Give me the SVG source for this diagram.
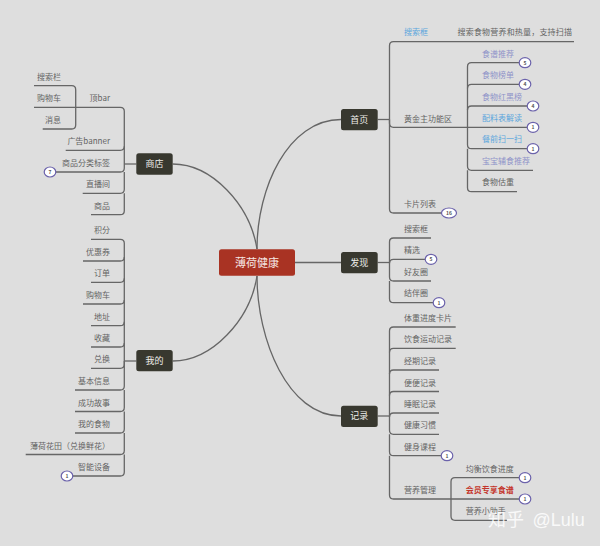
<svg xmlns="http://www.w3.org/2000/svg" width="600" height="546" viewBox="0 0 600 546">
<style>
text{font-family:"Noto Sans CJK SC","Noto Sans",sans-serif;font-size:8px;fill:#646464}
.e{text-anchor:end}
.blue{fill:#5ba6dd}
.pur{fill:#8f93c9}
.red{fill:#c4352b;font-weight:700}
.top rect{fill:#38382f}
.top text{font-size:9px;fill:#eeeeea;text-anchor:middle}
.c path{fill:none;stroke:#666;stroke-width:1.3}
.b ellipse{fill:#fff;stroke:#6b62ab;stroke-width:1.2}
.b text{font-size:5px;fill:#555;text-anchor:middle;font-weight:700}
.b text.l{font-size:8px;fill:#646464;font-weight:400;text-anchor:start}
.b text.lb{font-size:8px;fill:#5ba6dd;font-weight:400;text-anchor:start}
.b text.lp{font-size:8px;fill:#8f93c9;font-weight:400;text-anchor:start}
.b text.lr{font-size:8px;fill:#c4352b;font-weight:700;text-anchor:start}
.b text.le{font-size:8px;fill:#646464;font-weight:400;text-anchor:end}
</style>
<rect width="600" height="546" fill="#dedede"/>
<g id="connectors" class="c">
<path d="M257 249C257 188 288 119.500 341 119.500"/>
<path d="M295 262.500H341"/>
<path d="M257 276C257 340 288 416 341 416"/>
<path d="M257 249C250 205 212 164 172.700 164"/>
<path d="M257 276C250 320 212 361 172.700 361"/>
<path d="M377.700 119.500H389.500"/>
<path d="M377.700 262.500H389.500"/>
<path d="M377.700 416H389.500"/>
<path d="M136.300 164H124.300"/>
<path d="M136.300 361H124.300"/>
<path d="M389.500 119.500V45.700Q389.500 41.700 393.500 41.700H574"/>
<path d="M389.500 119.500V123.300Q389.500 127.300 393.500 127.300H533"/>
<path d="M389.500 119.500V209Q389.500 213 393.500 213H449"/>
<path d="M467.500 127.300V66.700Q467.500 62.700 471.500 62.700H525"/>
<path d="M467.500 88.300Q467.500 84.300 471.500 84.300H525"/>
<path d="M467.500 110Q467.500 106 471.500 106H533"/>
<path d="M467.500 127.300V144.700Q467.500 148.700 471.500 148.700H533"/>
<path d="M467.500 148.700V166.300Q467.500 170.300 471.500 170.300H533"/>
<path d="M467.500 170.300V187.700Q467.500 191.700 471.500 191.700H517"/>
<path d="M389.500 262.500V242Q389.500 238 393.500 238H431"/>
<path d="M389.500 263.300Q389.500 259.300 393.500 259.300H431"/>
<path d="M389.500 262.500V277Q389.500 281 393.500 281H431"/>
<path d="M389.500 281V298.700Q389.500 302.700 393.500 302.700H439"/>
<path d="M389.500 416V331Q389.500 327 393.500 327H455.700"/>
<path d="M389.500 352.300Q389.500 348.300 393.500 348.300H455.700"/>
<path d="M389.500 374Q389.500 370 393.500 370H439"/>
<path d="M389.500 395.500Q389.500 391.500 393.500 391.500H439"/>
<path d="M389.500 417Q389.500 413 393.500 413H439"/>
<path d="M389.500 416V430.300Q389.500 434.300 393.500 434.300H439"/>
<path d="M389.500 434.300V451.700Q389.500 455.700 393.500 455.700H447"/>
<path d="M389.500 455.700V495Q389.500 499 393.500 499H525"/>
<path d="M451 499V481.700Q451 477.700 455 477.700H525"/>
<path d="M451 499V516.300Q451 520.300 455 520.300H507"/>
<path d="M124.300 164V111.300Q124.300 107.300 120.300 107.300H34"/>
<path d="M124.300 146.300Q124.300 150.300 120.300 150.300H65.700"/>
<path d="M124.300 164V168Q124.300 172 120.300 172H50"/>
<path d="M124.300 172V189.300Q124.300 193.300 120.300 193.300H82.700"/>
<path d="M124.300 193.300V210.700Q124.300 214.700 120.300 214.700H91"/>
<path d="M75.700 107.300V89.700Q75.700 85.700 71.700 85.700H34"/>
<path d="M75.700 107.300V125Q75.700 129 71.700 129H42.700"/>
<path d="M124.300 361V243.300Q124.300 239.300 120.300 239.300H91"/>
<path d="M124.300 257Q124.300 261 120.300 261H83"/>
<path d="M124.300 278.300Q124.300 282.300 120.300 282.300H91"/>
<path d="M124.300 300Q124.300 304 120.300 304H83"/>
<path d="M124.300 321.700Q124.300 325.700 120.300 325.700H91"/>
<path d="M124.300 343Q124.300 347 120.300 347H91"/>
<path d="M124.300 361V364.300Q124.300 368.300 120.300 368.300H91"/>
<path d="M124.300 361V386Q124.300 390 120.300 390H75"/>
<path d="M124.300 390V407.500Q124.300 411.500 120.300 411.500H75"/>
<path d="M124.300 411.500V429Q124.300 433 120.300 433H75"/>
<path d="M124.300 433V450.500Q124.300 454.500 120.300 454.500H25.700"/>
<path d="M124.300 454.500V472Q124.300 476 120.300 476H67"/>
</g>
<g id="root"><rect x="219" y="249.300" width="76" height="26.400" rx="2.500" fill="#a93323"/><text x="257" y="266.500" text-anchor="middle" style="font-size:11px;fill:#f5e6e2">薄荷健康</text></g>
<g id="home" class="top"><rect x="341" y="109" width="36.700" height="21.300" rx="2.500"/><text x="359.300" y="122.700">首页</text></g>
<g id="discover" class="top"><rect x="341" y="252" width="36.700" height="21.300" rx="2.500"/><text x="359.300" y="265.700">发现</text></g>
<g id="record" class="top"><rect x="341" y="405.700" width="36.700" height="21.300" rx="2.500"/><text x="359.300" y="419.400">记录</text></g>
<g id="shop" class="top"><rect x="136.300" y="153.300" width="36.400" height="21.400" rx="2.500"/><text x="154.500" y="167">商店</text></g>
<g id="mine" class="top"><rect x="136.300" y="350" width="36.400" height="21.300" rx="2.500"/><text x="154.500" y="363.700">我的</text></g>
<g id="home-leaves">
<g id="h1"><text x="404" y="35.300" class="blue">搜索框</text><text x="457.500" y="35.300" textLength="114.500">搜索食物营养和热量，支持扫描</text></g>
<g id="h2"><text x="404" y="121.500">黄金主功能区</text></g>
<g id="h2a" class="b"><text x="482" y="56.500" class="lp">食谱推荐</text><ellipse cx="525" cy="62.700" rx="5.800" ry="5"/><text x="525" y="64.500">5</text></g>
<g id="h2b" class="b"><text x="482" y="78" class="lp">食物榜单</text><ellipse cx="525" cy="84.300" rx="5.800" ry="5"/><text x="525" y="86.100">4</text></g>
<g id="h2c" class="b"><text x="482" y="99.700" class="lp">食物红黑榜</text><ellipse cx="533" cy="106" rx="5.800" ry="5"/><text x="533" y="107.800">4</text></g>
<g id="h2d" class="b"><text x="482" y="121" class="lb">配料表解读</text><ellipse cx="533" cy="127.300" rx="5.800" ry="5"/><text x="533" y="129.100">1</text></g>
<g id="h2e" class="b"><text x="482" y="142.400" class="lb">餐前扫一扫</text><ellipse cx="533" cy="148.700" rx="5.800" ry="5"/><text x="533" y="150.500">1</text></g>
<g id="h2f"><text x="482" y="164" class="pur">宝宝辅食推荐</text></g>
<g id="h2g"><text x="482" y="185.400">食物估重</text></g>
<g id="h3" class="b"><text x="404" y="207" class="l">卡片列表</text><ellipse cx="449" cy="213" rx="7.500" ry="5"/><text x="449" y="214.800">16</text></g>
</g>
<g id="discover-leaves">
<g id="d1"><text x="404" y="231.700">搜索框</text></g>
<g id="d2" class="b"><text x="404" y="253" class="l">精选</text><ellipse cx="431" cy="259.300" rx="5.800" ry="5"/><text x="431" y="261.100">5</text></g>
<g id="d3"><text x="404" y="274.700">好友圈</text></g>
<g id="d4" class="b"><text x="404" y="296.400" class="l">结伴圈</text><ellipse cx="439" cy="302.700" rx="5.800" ry="5"/><text x="439" y="304.500">1</text></g>
</g>
<g id="record-leaves">
<g id="r1"><text x="404" y="321">体重进度卡片</text></g>
<g id="r2"><text x="404" y="342.300">饮食运动记录</text></g>
<g id="r3"><text x="404" y="364">经期记录</text></g>
<g id="r4"><text x="404" y="385.500">便便记录</text></g>
<g id="r5"><text x="404" y="407">睡眠记录</text></g>
<g id="r6"><text x="404" y="428.300">健康习惯</text></g>
<g id="r7" class="b"><text x="404" y="449.700" class="l">健身课程</text><ellipse cx="447" cy="455.700" rx="5.800" ry="5"/><text x="447" y="457.500">1</text></g>
<g id="r8"><text x="404" y="493">营养管理</text></g>
<g id="r8a" class="b"><text x="465.700" y="471.500" class="l">均衡饮食进度</text><ellipse cx="525" cy="477.700" rx="5.800" ry="5"/><text x="525" y="479.500">1</text></g>
<g id="r8b" class="b"><text x="465.700" y="493" class="lr">会员专享食谱</text><ellipse cx="525" cy="499" rx="5.800" ry="5"/><text x="525" y="500.800">1</text></g>
<g id="r8c"><text x="465.700" y="514.300">营养小助手</text></g>
</g>
<g id="shop-leaves">
<g id="s1"><text x="110" y="101.300" class="e">顶bar</text></g>
<g id="s1a"><text x="61" y="80" class="e">搜索栏</text></g>
<g id="s1b"><text x="61" y="101.300" class="e">购物车</text></g>
<g id="s1c"><text x="61" y="123" class="e">消息</text></g>
<g id="s2"><text x="110" y="144.300" class="e">广告banner</text></g>
<g id="s3" class="b"><text x="110" y="166" class="le">商品分类标签</text><ellipse cx="50" cy="172" rx="5.800" ry="5"/><text x="50" y="173.800">7</text></g>
<g id="s4"><text x="110" y="187.300" class="e">直播间</text></g>
<g id="s5"><text x="110" y="208.700" class="e">商品</text></g>
</g>
<g id="mine-leaves">
<g id="m1"><text x="110" y="233.300" class="e">积分</text></g>
<g id="m2"><text x="110" y="255" class="e">优惠券</text></g>
<g id="m3"><text x="110" y="276.300" class="e">订单</text></g>
<g id="m4"><text x="110" y="298" class="e">购物车</text></g>
<g id="m5"><text x="110" y="319.700" class="e">地址</text></g>
<g id="m6"><text x="110" y="341" class="e">收藏</text></g>
<g id="m7"><text x="110" y="362.300" class="e">兑换</text></g>
<g id="m8"><text x="110" y="384" class="e">基本信息</text></g>
<g id="m9"><text x="110" y="405.500" class="e">成功故事</text></g>
<g id="m10"><text x="110" y="427" class="e">我的食物</text></g>
<g id="m11"><text x="110" y="448.500" class="e">薄荷花田（兑换鲜花）</text></g>
<g id="m12" class="b"><text x="110" y="470" class="le">智能设备</text><ellipse cx="67" cy="476" rx="5.800" ry="5"/><text x="67" y="477.800">1</text></g>
</g>
<g id="watermark">
<text x="488" y="526" style="font-size:18px;fill:#fff;fill-opacity:.85">知乎</text>
<text x="532.500" y="526" style="font-family:'Liberation Sans',sans-serif;font-size:18px;fill:#fff;fill-opacity:.85">@Lulu</text>
</g>
</svg>
